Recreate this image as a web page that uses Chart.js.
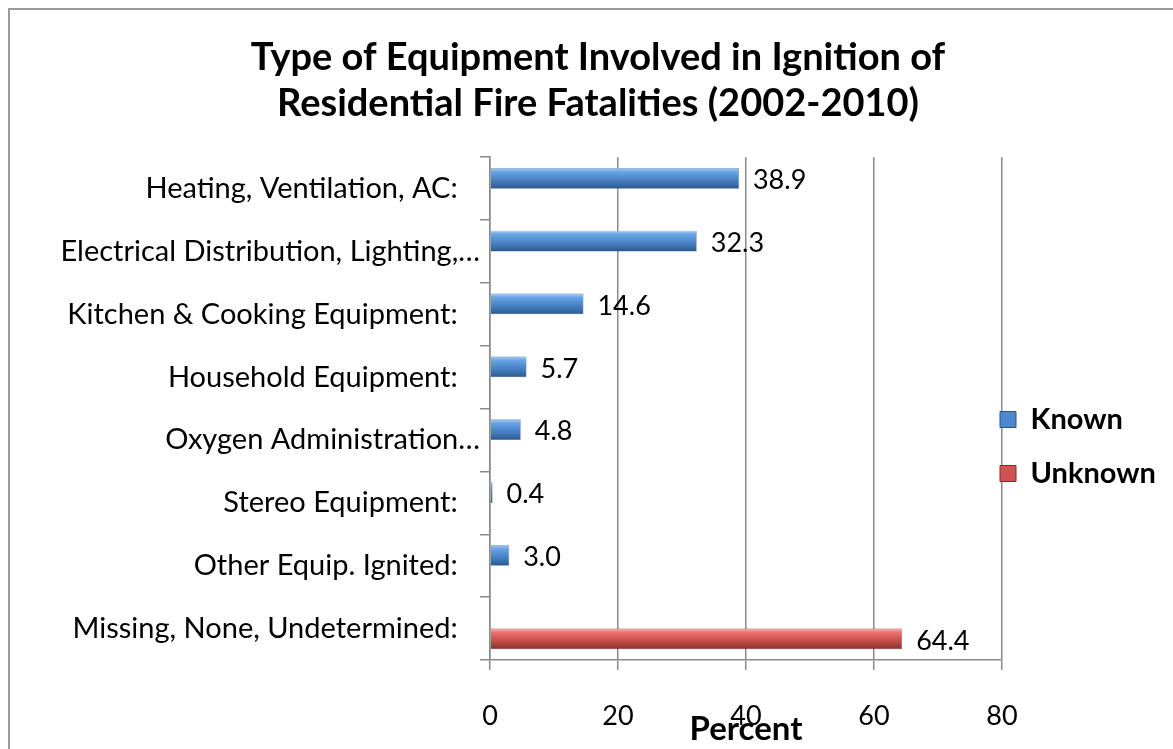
<!DOCTYPE html>
<html>
<head>
<meta charset="utf-8">
<title>Equipment Involved in Ignition</title>
<script src="https://cdn.jsdelivr.net/npm/chart.js@4.4.0/dist/chart.umd.min.js"></script>
<style>
  html, body { margin: 0; padding: 0; background: #fff; }
  #wrap { position: relative; width: 1173px; height: 749px; }
</style>
</head>
<body>
<div id="wrap"><canvas id="chart" width="1173" height="749"></canvas></div>
<script>
// ---- data ----
const categories = [
    'Heating, Ventilation, AC:',
    'Electrical Distribution, Lighting,\u2026',
    'Kitchen & Cooking Equipment:',
    'Household Equipment:',
    'Oxygen Administration\u2026',
    'Stereo Equipment:',
    'Other Equip. Ignited:',
    'Missing, None, Undetermined:'
];
const knownValues = [38.9, 32.3, 14.6, 5.7, 4.8, 0.4, 3.0, null];
const unknownValues = [null, null, null, null, null, null, null, 64.4];
const xTicks = [0, 20, 40, 60, 80];

const FONT = 'Lato, "Open Sans", sans-serif';
const GRID = '#8a8a8a';

// bar shading, top to bottom
const shades = {
    Known: ['#a9cdf3', '#6aa5e6', '#4d88cd', '#3a6eab', '#2a5488'],
    Unknown: ['#f7b0ae', '#ec7370', '#cf5451', '#a83f3d', '#7f2e2c']
};

// gradient fill for each bar, built from the element's own position
const bevelPlugin = {
    id: 'bevel',
    beforeDatasetsDraw(chart) {
        const ctx = chart.ctx;
        chart.data.datasets.forEach((ds, i) => {
            const stops = shades[ds.label];
            chart.getDatasetMeta(i).data.forEach(el => {
                if (el.height == null || isNaN(el.y)) return;
                const top = el.y - el.height / 2;
                const g = ctx.createLinearGradient(0, top, 0, top + el.height);
                g.addColorStop(0, stops[0]);
                g.addColorStop(0.18, stops[1]);
                g.addColorStop(0.5, stops[2]);
                g.addColorStop(0.8, stops[3]);
                g.addColorStop(1, stops[4]);
                el.options.backgroundColor = g;
            });
        });
    }
};

// value labels at the end of each bar
const valueLabels = {
    id: 'valueLabels',
    afterDatasetsDraw(chart) {
        const ctx = chart.ctx;
        ctx.save();
        ctx.font = '27px ' + FONT;
        ctx.fillStyle = '#000';
        ctx.textBaseline = 'middle';
        ctx.textAlign = 'left';
        chart.data.datasets.forEach((ds, i) => {
            chart.getDatasetMeta(i).data.forEach((el, j) => {
                const v = ds.data[j];
                if (v == null) return;
                ctx.fillText(v.toFixed(1), el.x + 14, el.y + 2);
            });
        });
        ctx.restore();
    }
};

// legend sits partly over the plot edge, as in the original
const legendShift = {
    id: 'legendShift',
    afterLayout(chart) {
        const lg = chart.legend;
        lg.left -= 27;
        lg.width += 27;
        lg.top += 72; lg.bottom += 72;
    }
};

// frame line along the top and left edges
const framePlugin = {
    id: 'frame',
    beforeDraw(chart) {
        const ctx = chart.ctx;
        ctx.save();
        ctx.strokeStyle = '#9a9a9a';
        ctx.lineWidth = 2;
        ctx.beginPath();
        ctx.moveTo(9, chart.height);
        ctx.lineTo(9, 9);
        ctx.lineTo(chart.width, 9);
        ctx.stroke();
        ctx.restore();
    }
};

new Chart(document.getElementById('chart'), {
    type: 'bar',
    data: {
        labels: categories,
        datasets: [
            {
                label: 'Known',
                data: knownValues,
                backgroundColor: () => '#4f81bd',
                borderColor: '#3b6698',
                borderWidth: 0.5
            },
            {
                label: 'Unknown',
                data: unknownValues,
                backgroundColor: () => '#c0504d',
                borderColor: '#8c3836',
                borderWidth: 0.5
            }
        ]
    },
    options: {
        indexAxis: 'y',
        responsive: false,
        animation: false,
        categoryPercentage: 0.66,
        barPercentage: 1.0,
        layout: { padding: { top: 0, left: 23, right: 0, bottom: 0 } },
        scales: {
            x: {
                min: 0,
                max: 80,
                afterBuildTicks: scale => { scale.ticks = xTicks.map(v => ({ value: v })); },
                afterFit: scale => { scale.height = 89; },
                grid: { color: GRID, lineWidth: 1.5, tickLength: 10 },
                border: { color: GRID, width: 1.5 },
                ticks: { color: '#000', padding: 30, font: { family: FONT, size: 27 } },
                title: {
                    display: true,
                    text: 'Percent',
                    color: '#000',
                    padding: { top: 0, bottom: 0 },
                    font: { family: FONT, size: 33, weight: 'bold' }
                }
            },
            y: {
                afterFit: scale => { scale.width = 467; },
                grid: { drawOnChartArea: false, color: GRID, lineWidth: 1.5, tickLength: 10 },
                border: { color: GRID, width: 1.5 },
                ticks: {
                    color: '#000',
                    padding: 0,
                    font: { family: FONT, size: 29 },
                    callback: function (v) {
                        const s = this.getLabelForValue(v);
                        return s.endsWith('\u2026') ? s : s + '   ';
                    }
                }
            }
        },
        plugins: {
            title: {
                display: true,
                text: ['Type of Equipment Involved in Ignition of', 'Residential Fire Fatalities (2002-2010)'],
                color: '#000',
                padding: { top: 35, bottom: 31 },
                font: { family: FONT, size: 38, weight: 'bold', lineHeight: 1.2 }
            },
            legend: {
                position: 'right',
                maxWidth: 171,
                labels: {
                    color: '#000',
                    boxWidth: 16,
                    boxHeight: 16,
                    padding: 25,
                    font: { family: FONT, size: 29, weight: 'bold' },
                    generateLabels: chart => chart.data.datasets.map((ds, i) => ({
                        text: ds.label,
                        fillStyle: shades[ds.label][2],
                        strokeStyle: shades[ds.label][4],
                        lineWidth: 1,
                        datasetIndex: i,
                        fontColor: '#000'
                    }))
                }
            },
            tooltip: { enabled: false }
        }
    },
    plugins: [framePlugin, legendShift, bevelPlugin, valueLabels]
});
</script>
</body>
</html>
